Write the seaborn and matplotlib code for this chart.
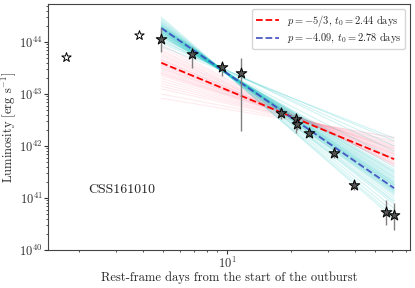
import numpy as np
import pandas as pd
import matplotlib
matplotlib.use('Agg')
import matplotlib.pyplot as plt
import seaborn as sns

# Наблюдения (дни в системе покоя, светимость в erg/s)
t_early = [1.74, 3.85]
L_early = [5.1e43, 1.36e44]

t_obs = [4.89, 6.84, 9.47, 11.6, 18.0, 21.1, 21.3, 24.4, 32.0, 39.7, 56.2, 61.4]
L_obs = [1.15e44, 5.9e43, 3.3e43, 2.6e43, 4.3e42, 3.3e42, 2.6e42, 1.8e42,
         7.4e41, 1.8e41, 5.4e40, 4.7e40]
L_lo = [6.5e43, 3.2e43, 2.2e43, 1.95e42, 3.3e42, 1.8e42, 2.0e42, 1.5e42,
        5.9e41, 1.4e41, 3.0e40, 2.4e40]
L_hi = [1.86e44, 7.9e43, 4.2e43, 4.9e43, 5.4e42, 4.3e42, 3.5e42, 2.1e42,
        9.1e41, 2.2e41, 9.1e40, 7.9e40]

# Аппроксимации степенным законом (концы отрезков)
fit_t = [4.89, 61.4]
red_L = [4.0e43, 5.6e41]
blue_L = [1.86e44, 1.55e41]

# Ансамбль подгонок: log10 L в начале и в конце
cyan_start = [44.22, 44.30, 44.15, 44.27, 44.35, 44.12, 44.25, 44.40, 44.18, 44.31,
              44.05, 44.28, 44.20, 44.45, 44.10, 44.33, 44.24, 44.16, 44.38, 44.29,
              44.08, 44.21, 44.26, 44.13, 44.36, 43.98, 44.23, 44.30, 44.19, 44.42,
              44.27, 44.14, 44.33, 44.02, 44.25, 44.17, 44.48, 43.92, 44.29, 44.21]
cyan_end = [41.25, 41.10, 41.45, 41.20, 40.95, 41.55, 41.30, 40.80, 41.40, 41.15,
            41.75, 41.22, 41.35, 40.65, 41.60, 41.05, 41.28, 41.48, 40.88, 41.18,
            41.90, 41.33, 41.12, 41.52, 40.92, 42.10, 41.26, 41.08, 41.42, 40.72,
            41.16, 41.50, 41.00, 42.00, 41.24, 41.38, 40.60, 42.15, 41.14, 41.30]
pink_start = [43.60, 43.45, 43.72, 43.30, 43.55, 43.85, 43.20, 43.65, 43.50, 43.95,
              43.10, 43.40, 43.68, 43.35, 43.78, 43.00, 43.58, 43.48, 43.90, 43.25,
              43.62, 43.42, 43.75, 42.92, 43.52, 43.66, 43.38, 43.82, 43.15, 43.56]
pink_end = [41.80, 41.90, 41.70, 42.00, 41.85, 41.65, 42.05, 41.78, 41.88, 41.62,
            42.10, 41.95, 41.74, 41.98, 41.68, 42.15, 41.82, 41.92, 41.64, 42.02,
            41.76, 41.94, 41.72, 42.17, 41.86, 41.75, 41.96, 41.66, 42.08, 41.84]


def ensemble_frame(start, end):
    rows = []
    for i, (a, b) in enumerate(zip(start, end)):
        rows.append({'t': fit_t[0], 'L': 10 ** a, 'id': i})
        rows.append({'t': fit_t[1], 'L': 10 ** b, 'id': i})
    return pd.DataFrame(rows)


sns.set_style('ticks')
plt.rcParams['font.family'] = 'serif'
plt.rcParams['font.serif'] = ['cmr10']
plt.rcParams['mathtext.fontset'] = 'cm'
plt.rcParams['axes.formatter.use_mathtext'] = True
plt.rcParams['axes.unicode_minus'] = False

fig = plt.figure(figsize=(4.15, 2.88), dpi=100)
ax = fig.add_subplot(111)
fig.subplots_adjust(left=0.116, right=0.988, top=0.986, bottom=0.132)

sns.lineplot(data=ensemble_frame(pink_start, pink_end), x='t', y='L', units='id',
             estimator=None, color='#ffa0b4', alpha=0.22, lw=0.8, ax=ax)
sns.lineplot(data=ensemble_frame(cyan_start, cyan_end), x='t', y='L', units='id',
             estimator=None, color='#20c4c4', alpha=0.2, lw=0.8, ax=ax)

ax.plot(fit_t, red_L, '--', color='red', lw=1.3, zorder=4,
        label=r'$p=-5/3$, $t_0=2.44$ days')
ax.plot(fit_t, blue_L, '--', color='#3a48c0', alpha=0.9, lw=1.3, zorder=4,
        label=r'$p=-4.09$, $t_0=2.78$ days')

L_arr = np.array(L_obs)
yerr = [L_arr - np.array(L_lo), np.array(L_hi) - L_arr]
ax.errorbar(t_obs, L_obs, yerr=yerr, fmt='none', ecolor='gray', elinewidth=1.0, zorder=5)
sns.scatterplot(x=t_obs, y=L_obs, marker='*', s=65, color='#555555',
                edgecolor='black', linewidth=0.7, zorder=6, ax=ax)
sns.scatterplot(x=t_early, y=L_early, marker='*', s=50, color='white',
                edgecolor='black', linewidth=0.7, zorder=6, ax=ax)

ax.set_xscale('log')
ax.set_yscale('log')
ax.set_xlim(1.43, 73)
ax.set_ylim(1e40, 5.4e44)
ax.set_xlabel('Rest-frame days from the start of the outburst', fontsize=9)
ax.set_ylabel(r'Luminosity [erg s$^{-1}$]', fontsize=9)
ax.xaxis.set_label_coords(0.5, -0.088)
ax.yaxis.set_label_coords(-0.082, 0.5)
ax.tick_params(which='major', length=3, pad=1)
ax.tick_params(which='minor', length=1.5)
ax.tick_params(which='both', labelsize=9, colors='#333333', direction='out')
for s in ax.spines.values():
    s.set_color('#444444')
ax.text(2.2, 1.25e41, 'CSS161010', fontsize=10)
ax.legend(loc='upper right', fontsize=7.5, handlelength=2.2,
          labelspacing=0.3, borderpad=0.35)

plt.savefig('out.png', dpi=100)
